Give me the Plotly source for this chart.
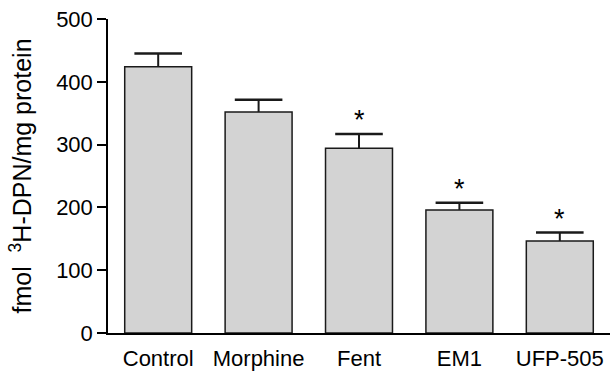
import plotly.graph_objects as go

categories = ["Control", "Morphine", "Fent", "EM1", "UFP-505"]
values = [424, 352, 294, 196, 146.5]
errors = [21, 19.5, 23, 11.5, 13.5]
significant = [False, False, True, True, True]
y_ticks = [0, 100, 200, 300, 400, 500]

FONT = "Liberation Sans, Arial, sans-serif"
tops = [v + e for v, e in zip(values, errors)]

fig = go.Figure()
fig.add_trace(go.Bar(
    x=categories,
    y=values,
    width=0.667,
    marker=dict(color="#d3d3d3", line=dict(color="#1a1a1a", width=1.5)),
    error_y=dict(type="data", symmetric=False, array=errors,
                 arrayminus=[0] * len(errors),
                 color="#1a1a1a", thickness=2, width=0),
    showlegend=False,
))
# error-bar caps
fig.add_trace(go.Scatter(
    x=categories, y=tops, mode="markers",
    marker=dict(symbol="line-ew", size=34, line=dict(color="#1a1a1a", width=2.5)),
    showlegend=False, hoverinfo="skip",
))

for c, t, s in zip(categories, tops, significant):
    if s:
        fig.add_annotation(x=c, y=t, text="*", showarrow=False,
                           yanchor="bottom", yshift=-3,
                           font=dict(family=FONT, size=27, color="black"))

fig.update_layout(
    width=610, height=376,
    margin=dict(l=108, r=0, t=19, b=43),
    paper_bgcolor="white", plot_bgcolor="white",
    font=dict(family=FONT, size=22, color="black"),
    bargap=0.33,
)
fig.update_xaxes(
    range=[-0.5, 4.5], showline=True, linecolor="black", linewidth=1.5,
    ticks="", ticklabelstandoff=5, showgrid=False, zeroline=False,
    tickfont=dict(size=22),
)
fig.update_yaxes(
    range=[0, 500], tickvals=y_ticks, showline=True, linecolor="black",
    linewidth=1.5, ticks="outside", ticklen=9, tickwidth=1.5, tickcolor="black",
    showgrid=False, zeroline=False, tickfont=dict(size=22),
    title=dict(text="fmol\u00a0\u00a0<sup>3</sup>H-DPN/mg protein",
               font=dict(size=25), standoff=17),
)

fig.write_html("out.html")
